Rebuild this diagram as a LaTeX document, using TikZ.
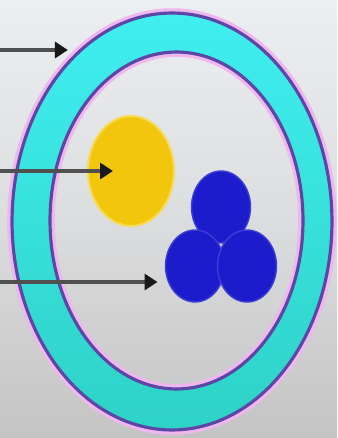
\documentclass[tikz,border=0pt]{standalone}
\usetikzlibrary{arrows.meta,shapes.geometric}

\definecolor{bgtop}{HTML}{ECEFF2}
\definecolor{bgmid}{HTML}{DCDDDE}
\definecolor{bgbot}{HTML}{C4C4C5}
\definecolor{ringtop}{HTML}{40EEF0}
\definecolor{ringbot}{HTML}{2ED2C6}
\definecolor{membrane}{HTML}{5C46A6}
\definecolor{halo}{HTML}{F0B6EE}
\definecolor{yolk}{HTML}{F2C60C}
\definecolor{yolkrim}{HTML}{F6DA5A}
\definecolor{granule}{HTML}{1C1CCC}
\definecolor{shaft}{HTML}{505050}

\tikzset{
  wall/.style={ellipse, inner sep=0pt, outer sep=0pt, draw=membrane, line width=1.8pt},
  glow/.style={draw=halo, line width=2.6pt},
  nucleus/.style={ellipse, inner sep=0pt, outer sep=0pt, fill=yolk, draw=yolkrim, line width=1.2pt,
    minimum width=1.72cm, minimum height=2.2cm},
  bead/.style={ellipse, inner sep=0pt, outer sep=0pt, fill=granule, draw=granule!85!white, line width=0.8pt,
    minimum width=1.18cm, minimum height=1.44cm},
  pointer/.style={draw=shaft, line width=2.8pt,
    -{Triangle[length=0.26cm, width=0.32cm, color=black!90]}},
}

\begin{document}
\begin{tikzpicture}[x=0.02cm, y=-0.02cm]
  % backdrop
  \shade[top color=bgtop, bottom color=bgbot, middle color=bgmid] (0,0) rectangle (337,438);
  \useasboundingbox (0,0) rectangle (337,438);

  % cyan band between the two walls
  \shade[top color=ringtop, bottom color=ringbot, even odd rule]
    (172,221.5) ellipse [x radius=3.2cm, y radius=4.17cm]
    (176.5,220.5) ellipse [x radius=2.53cm, y radius=3.37cm];

  % soft pink rims outside the outer wall and inside the inner wall
  \draw[glow] (172,221.5) ellipse [x radius=3.25cm, y radius=4.22cm];
  \draw[glow] (176.5,220.5) ellipse [x radius=2.48cm, y radius=3.32cm];

  % the two walls
  \node[wall, minimum width=6.4cm, minimum height=8.34cm] (outer) at (172,221.5) {};
  \node[wall, minimum width=5.06cm, minimum height=6.74cm] (inner) at (176.5,220.5) {};

  % yellow body
  \node[nucleus] (yolkbody) at (131,171) {};

  % three blue granules
  \node[bead] (gtop)   at (221,207) {};
  \node[bead] (gleft)  at (195,266) {};
  \node[bead] (gright) at (247,266) {};

  % pointer tails at the left edge
  \coordinate (s1) at (0,50);
  \coordinate (s2) at (0,171);
  \coordinate (s3) at (0,282);

  % pointers
  \draw[pointer, shorten >=0.26cm] (s1) -- (s1 -| outer.118);
  \draw[pointer, shorten >=0.36cm] (s2) -- (yolkbody.center);
  \draw[pointer, shorten >=0.16cm] (s3) -- (s3 -| gleft.west);
\end{tikzpicture}
\end{document}
